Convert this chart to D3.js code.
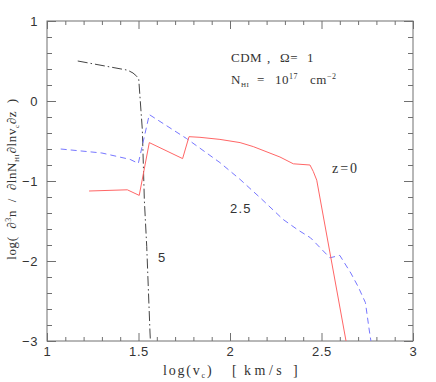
<!DOCTYPE html>
<html><head><meta charset="utf-8">
<script src="https://cdn.jsdelivr.net/npm/d3@7"></script>
<style>body{margin:0;background:#fff}</style>
</head><body><svg id="c" width="436" height="382"></svg>
<script>
// ---- data ----
const xMajorTicks = [1, 1.5, 2, 2.5, 3];
const xTickLabels = ["1", "1.5", "2", "2.5", "3"];
const yMajorTicks = [-3, -2, -1, 0, 1];
const yTickLabels = ["\u22123", "\u22122", "\u22121", "0", "1"];
const xMinorTicks = [1.1,1.2,1.3,1.4,1.6,1.7,1.8,1.9,2.1,2.2,2.3,2.4,2.6,2.7,2.8,2.9];
const yMinorTicks = [-2.8,-2.6,-2.4,-2.2,-1.8,-1.6,-1.4,-1.2,-0.8,-0.6,-0.4,-0.2,0.2,0.4,0.6,0.8];

// z = 0 (solid red)
const z0_x = [1.23, 1.439, 1.504, 1.559, 1.741, 1.776, 1.836, 1.945, 2.055, 2.127, 2.273, 2.346, 2.437, 2.455, 2.474, 2.634];
const z0_y = [-1.125, -1.11, -1.18, -0.52, -0.72, -0.446, -0.454, -0.48, -0.52, -0.57, -0.70, -0.785, -0.80, -0.88, -0.99, -3.0];
// z = 2.5 (dashed blue)
const z25_x = [1.075, 1.30, 1.454, 1.499, 1.559, 1.763, 1.945, 2.055, 2.17, 2.29, 2.37, 2.44, 2.546, 2.60, 2.66, 2.70, 2.74, 2.76, 2.77];
const z25_y = [-0.60, -0.65, -0.73, -0.78, -0.17, -0.47, -0.77, -0.98, -1.22, -1.48, -1.61, -1.71, -1.96, -1.93, -2.15, -2.32, -2.52, -2.85, -3.0];
// z = 5 (dash-dot black)
const z5_x = [1.168, 1.441, 1.47, 1.49, 1.501, 1.521, 1.532, 1.545, 1.563, 1.565];
const z5_y = [0.50, 0.385, 0.35, 0.31, 0.28, -0.36, -1.24, -1.82, -2.9, -3.0];

const seriesLabels = ["z=0", "2.5", "5"];

// ---- layout ----
const svg = d3.select("#c");
const X0 = 47, X1 = 413, Y0 = 341, Y1 = 21;
const x = d3.scaleLinear().domain([1, 3]).range([X0, X1]);
const y = d3.scaleLinear().domain([-3, 1]).range([Y0, Y1]);
const axisCol = "#707070";
const serif = "'Liberation Serif', 'Times New Roman', serif";
const sans = "'Liberation Sans', Arial, sans-serif";

svg.append("defs").append("clipPath").attr("id", "clip")
  .append("rect").attr("x", X0).attr("y", Y1).attr("width", X1 - X0).attr("height", Y0 - Y1);

function styleAxis(g) {
  g.select(".domain").remove();
  g.selectAll("line").attr("stroke", axisCol).attr("stroke-width", 1);
  g.selectAll("text").attr("fill", "#333").style("font-family", sans).style("font-size", "13px")
    .style("letter-spacing", "0.6px");
}

// bottom
svg.append("g").attr("transform", `translate(0,${Y0})`)
  .call(d3.axisBottom(x).tickValues(xMajorTicks).tickSize(-8).tickPadding(6).tickFormat((d, i) => xTickLabels[i]))
  .call(styleAxis);
svg.append("g").attr("transform", `translate(0,${Y0})`)
  .call(d3.axisBottom(x).tickValues(xMinorTicks).tickSize(-4).tickFormat(""))
  .call(styleAxis);
// top
svg.append("g").attr("transform", `translate(0,${Y1})`)
  .call(d3.axisTop(x).tickValues(xMajorTicks).tickSize(-8).tickFormat(""))
  .call(styleAxis);
svg.append("g").attr("transform", `translate(0,${Y1})`)
  .call(d3.axisTop(x).tickValues(xMinorTicks).tickSize(-4).tickFormat(""))
  .call(styleAxis);
// left
svg.append("g").attr("transform", `translate(${X0},0)`)
  .call(d3.axisLeft(y).tickValues(yMajorTicks).tickSize(-9).tickPadding(9).tickFormat((d, i) => yTickLabels[i]))
  .call(styleAxis);
svg.append("g").attr("transform", `translate(${X0},0)`)
  .call(d3.axisLeft(y).tickValues(yMinorTicks).tickSize(-5).tickFormat(""))
  .call(styleAxis);
// right
svg.append("g").attr("transform", `translate(${X1},0)`)
  .call(d3.axisRight(y).tickValues(yMajorTicks).tickSize(-9).tickFormat(""))
  .call(styleAxis);
svg.append("g").attr("transform", `translate(${X1},0)`)
  .call(d3.axisRight(y).tickValues(yMinorTicks).tickSize(-5).tickFormat(""))
  .call(styleAxis);

svg.append("rect").attr("x", X0).attr("y", Y1).attr("width", X1 - X0).attr("height", Y0 - Y1)
  .attr("fill", "none").attr("stroke", axisCol).attr("stroke-width", 1);

// ---- curves ----
const line = d3.line().x(d => x(d[0])).y(d => y(d[1]));
const plot = svg.append("g").attr("clip-path", "url(#clip)");
function zip(a, b) { return a.map((v, i) => [v, b[i]]); }

plot.append("path").datum(zip(z5_x, z5_y)).attr("d", line)
  .attr("fill", "none").attr("stroke", "#444").attr("stroke-width", 1)
  .attr("stroke-dasharray", "10,3,1.5,3");
plot.append("path").datum(zip(z25_x, z25_y)).attr("d", line)
  .attr("fill", "none").attr("stroke", "#7777ff").attr("stroke-width", 1)
  .attr("stroke-dasharray", "6,4");
plot.append("path").datum(zip(z0_x, z0_y)).attr("d", line)
  .attr("fill", "none").attr("stroke", "#ff6666").attr("stroke-width", 1);

// ---- labels ----
svg.append("text").attr("x", 332).attr("y", 173).attr("font-family", serif).attr("font-size", 14)
  .attr("fill", "#333").attr("letter-spacing", 2).text(seriesLabels[0]);
svg.append("text").attr("x", 230).attr("y", 213).attr("font-family", sans).attr("font-size", 13)
  .attr("fill", "#333").attr("letter-spacing", 1.2).text(seriesLabels[1]);
svg.append("text").attr("x", 158).attr("y", 262).attr("font-family", sans).attr("font-size", 13)
  .attr("fill", "#333").text(seriesLabels[2]);

// annotation
const t1 = svg.append("text").attr("y", 62).attr("font-family", serif).attr("font-size", 13)
  .attr("fill", "#333").attr("letter-spacing", 0.5);
t1.append("tspan").attr("x", 231).text("CDM");
t1.append("tspan").attr("x", 267).text(",");
t1.append("tspan").attr("x", 280).text("\u03A9=");
t1.append("tspan").attr("x", 307).text("1");
const t2 = svg.append("text").attr("y", 84).attr("font-family", serif).attr("font-size", 13)
  .attr("fill", "#333").attr("letter-spacing", 0.5);
t2.append("tspan").attr("x", 231).text("N");
t2.append("tspan").attr("font-size", 7).attr("dy", 3).text("HI");
t2.append("tspan").attr("x", 257).attr("dy", -3).text("=");
t2.append("tspan").attr("x", 275).text("10");
t2.append("tspan").attr("font-size", 8).attr("dy", -5).text("17");
t2.append("tspan").attr("x", 310).attr("dy", 5).text("cm");
t2.append("tspan").attr("font-size", 8).attr("dy", -5).text("\u22122");

// x title
const xt = svg.append("text").attr("y", 375).attr("font-family", serif).attr("font-size", 14)
  .attr("fill", "#333").attr("letter-spacing", 1.8);
xt.append("tspan").attr("x", 163).text("log(v");
xt.append("tspan").attr("font-size", 8).attr("dy", 3).text("c");
xt.append("tspan").attr("dy", -3).text(")");
xt.append("tspan").attr("x", 232).text("[");
xt.append("tspan").attr("x", 244).attr("letter-spacing", 3.5).text("km/s");
xt.append("tspan").attr("x", 293).text("]");

// y title
const yt = svg.append("text").attr("transform", "translate(16,179) rotate(-90)")
  .attr("text-anchor", "middle").attr("font-family", serif).attr("font-size", 13)
  .attr("fill", "#333").attr("letter-spacing", 0.6).attr("xml:space", "preserve");
yt.append("tspan").text("log(  \u2202");
yt.append("tspan").attr("font-size", 8).attr("dy", -5).text("3");
yt.append("tspan").attr("dy", 5).text("n  /  \u2202lnN");
yt.append("tspan").attr("font-size", 7).attr("dy", 3).text("HI");
yt.append("tspan").attr("dy", -3).text("\u2202lnv");
yt.append("tspan").attr("font-size", 7).attr("dy", 3).text("c");
yt.append("tspan").attr("dy", -3).text("\u2202z  )");
</script></body></html>
